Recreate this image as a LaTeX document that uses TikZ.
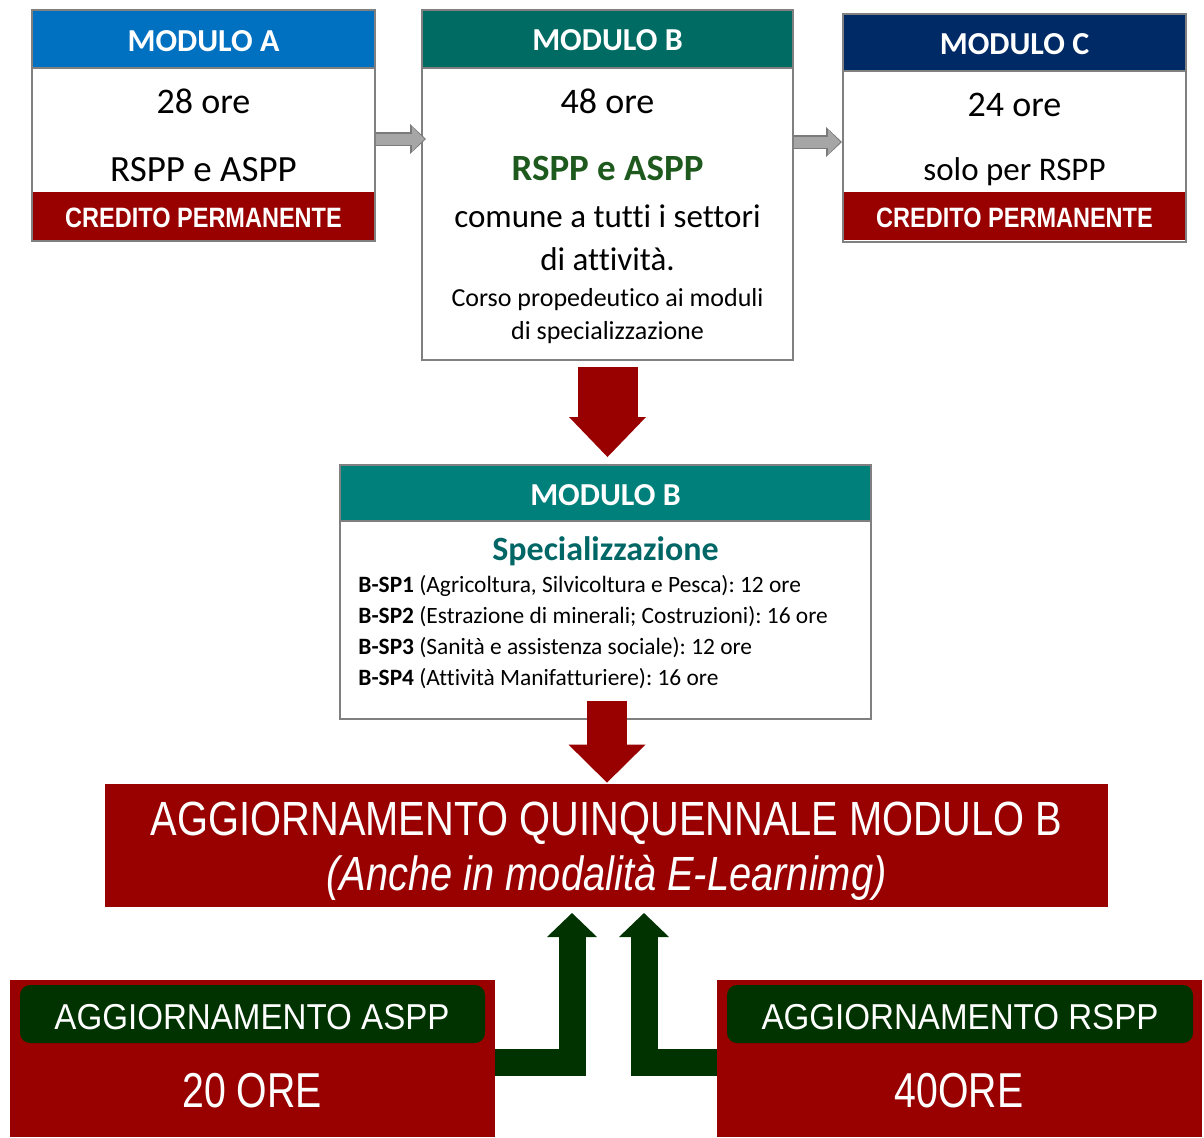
\documentclass[tikz,border=0pt]{standalone}
\usepackage{fontspec}
\setmainfont{Carlito}[Ligatures=NoCommon]
\newfontfamily\bignarrow[FakeStretch=0.83]{Liberation Sans}
\newfontfamily\midnarrow[FakeStretch=0.92]{Liberation Sans}
\newfontfamily\orenarrow[FakeStretch=0.80]{Liberation Sans}
\newfontfamily\creditfont[FakeStretch=0.84]{Liberation Sans}
\usetikzlibrary{fit,calc,arrows.meta}
\definecolor{blueA}{HTML}{0070C0}
\definecolor{tealB}{HTML}{006B63}
\definecolor{navyC}{HTML}{002A66}
\definecolor{tealS}{HTML}{00807A}
\definecolor{darkred}{HTML}{990000}
\definecolor{dgreen}{HTML}{003300}
\definecolor{txtgreen}{HTML}{1E5A1E}
\definecolor{txtteal}{HTML}{006666}
\definecolor{arrowgray}{HTML}{A6A6A6}
\definecolor{arrowedge}{HTML}{7A7A7A}
\definecolor{bordergray}{HTML}{808080}
\frenchspacing
\begin{document}
\begin{tikzpicture}[x=0.5pt,y=-0.5pt,
 frame/.style={draw=bordergray,line width=1pt,fill=white,inner sep=0pt},
 headbar/.style={draw=bordergray,line width=1pt,fill=#1,inner sep=0pt},
 redbar/.style={fill=darkred,draw=none,inner sep=0pt},
 greenbar/.style={fill=dgreen,draw=none,rounded corners=5pt,inner sep=0pt},
 lbl/.style={inner sep=0pt,anchor=base},
 hdrtxt/.style={lbl,text=white,font=\fontsize{16}{19}\selectfont\bfseries},
 oretxt/.style={lbl,font=\fontsize{18}{22}\selectfont},
 roletxt/.style={lbl,font=\fontsize{18.5}{22}\selectfont},
 credtxt/.style={lbl,text=white,font=\creditfont\bfseries\fontsize{14}{17}\selectfont},
 sptxt/.style={inner sep=0pt,anchor=base west,font=\fontsize{11.7}{14}\selectfont},
 redarrow/.style={draw=darkred,line cap=butt},
 greenarrow/.style={draw=dgreen,line width=13.5pt,line join=miter,line cap=butt,-{Triangle[length=12pt 0 0,width=25pt 0 0,line width=0pt]}},
 grayedge/.style={draw=arrowedge,line width=7pt,line cap=butt,-{Triangle[length=8pt 0 0,width=15pt 0 0,line width=0pt]}},
 grayarrow/.style={draw=arrowgray,line width=5.5pt,line cap=butt,shorten >=0.8pt,-{Triangle[length=6.2pt 0 0,width=12.5pt 0 0,line width=0pt]}},
]
\useasboundingbox (0,0) rectangle (1204,1137);

% ---------- Modulo A ----------
\node[frame,fit={(32,10)(375,241)}] (A) {};
\node[headbar=blueA,fit={(32,10)(375,68)}] (Ahead) {};
\node[redbar,fit={(33,192)(374,240)}] (Aband) {};
\node[hdrtxt] (Ah) at (203.5,51) {MODULO A};
\node[oretxt] (Aore) at (203.5,113) {28 ore};
\node[roletxt] (Arole) at (203.5,181) {RSPP e ASPP};
\node[credtxt] (Acred) at (203.5,227) {CREDITO PERMANENTE};

% ---------- Modulo B ----------
\node[frame,fit={(422,10)(793,360)}] (B) {};
\node[headbar=tealB,fit={(422,10)(793,68)}] (Bhead) {};
\node[hdrtxt] (Bh) at (607.5,50) {MODULO B};
\node[oretxt] (Bore) at (607.5,113) {48 ore};
\node[lbl,text=txtgreen,font=\fontsize{18.5}{22}\selectfont\bfseries] (Brole) at (607.5,180) {RSPP e ASPP};
\node[lbl,font=\fontsize{16.5}{20}\selectfont] (Bl1) at (607.5,227) {comune a tutti i settori};
\node[lbl,font=\fontsize{16.5}{20}\selectfont] (Bl2) at (607.5,270) {di attività.};
\node[lbl,font=\fontsize{13}{16}\selectfont] (Bl3) at (607.5,306) {Corso propedeutico ai moduli};
\node[lbl,font=\fontsize{13}{16}\selectfont] (Bl4) at (607.5,339) {di specializzazione};

% ---------- Modulo C ----------
\node[frame,fit={(843,14)(1186,242)}] (C) {};
\node[headbar=navyC,fit={(843,14)(1186,71)}] (Chead) {};
\node[redbar,fit={(844,192)(1185,240)}] (Cband) {};
\node[hdrtxt] (Ch) at (1014.5,54) {MODULO C};
\node[oretxt] (Core) at (1014.5,116) {24 ore};
\node[lbl,font=\fontsize{16.5}{20}\selectfont] (Crole) at (1014.5,180) {solo per RSPP};
\node[credtxt] (Ccred) at (1014.5,227) {CREDITO PERMANENTE};

% ---------- Modulo B specializzazione ----------
\node[frame,fit={(340,465)(871,719)}] (S) {};
\node[headbar=tealS,fit={(340,465)(871,521)}] (Shead) {};
\node[hdrtxt] (Sh) at (605.5,505) {MODULO B};
\node[lbl,text=txtteal,font=\fontsize{17}{20}\selectfont\bfseries] (Stitle) at (605.5,560) {Specializzazione};
\node[sptxt] (Sp1) at (358,592) {\textbf{B-SP1} (Agricoltura, Silvicoltura e Pesca): 12 ore};
\node[sptxt] (Sp2) at (358,623) {\textbf{B-SP2} (Estrazione di minerali; Costruzioni): 16 ore};
\node[sptxt] (Sp3) at (358,654) {\textbf{B-SP3} (Sanità e assistenza sociale): 12 ore};
\node[sptxt] (Sp4) at (358,685) {\textbf{B-SP4} (Attività Manifatturiere): 16 ore};

% ---------- Aggiornamento quinquennale ----------
\node[redbar,fit={(105,784)(1108,907)}] (Agg) {};
\node[lbl,text=white,font=\bignarrow\fontsize{24}{28}\selectfont] (Agg1) at (606.5,835) {AGGIORNAMENTO QUINQUENNALE MODULO B};
\node[lbl,text=white,font=\bignarrow\itshape\fontsize{24}{28}\selectfont] (Agg2) at (606.5,890) {(Anche in modalità E-Learnimg)};

% ---------- Aggiornamento ASPP / RSPP ----------
\node[redbar,fit={(10,980)(495,1137)}] (Asp) {};
\node[greenbar,fit={(20,985)(485,1043)}] (AspH) {};
\node[lbl,text=white,font=\midnarrow\fontsize{18}{22}\selectfont] (AspT) at (252,1029) {AGGIORNAMENTO ASPP};
\node[lbl,text=white,font=\orenarrow\fontsize{24.5}{28}\selectfont] (AspO) at (252,1107) {20 ORE};

\node[redbar,fit={(717,980)(1202,1137)}] (Rsp) {};
\node[greenbar,fit={(727,985)(1193,1043)}] (RspH) {};
\node[lbl,text=white,font=\midnarrow\fontsize{18}{22}\selectfont] (RspT) at (960,1029) {AGGIORNAMENTO RSPP};
\node[lbl,text=white,font=\orenarrow\fontsize{24.5}{28}\selectfont] (RspO) at (959,1107) {40ORE};

% ---------- connectors ----------
\coordinate (ga) at (0,139);
\coordinate (gb) at (0,142);
\draw[grayedge] (A.east |- ga) -- ($(B.west |- ga)+(5,0)$);
\draw[grayarrow] (A.east |- ga) -- ($(B.west |- ga)+(5,0)$);
\draw[grayedge] (B.east |- gb) -- (C.west |- gb);
\draw[grayarrow] (B.east |- gb) -- (C.west |- gb);

\coordinate (r1s) at ($(B.south)+(0,6)$);
\draw[redarrow,line width=30pt,-{Triangle[length=20pt 0 0,width=38.5pt 0 0,line width=0pt]}]
  (r1s) -- ($(r1s |- S.north)+(0,-7)$);
\coordinate (r2s) at ($(S.south)+(1.5,-19)$);
\draw[redarrow,line width=20pt,-{Triangle[length=19pt 0 0,width=38.5pt 0 0,line width=0pt]}]
  (r2s) -- ($(r2s |- Agg.north)+(0,-1)$);

\coordinate (gyl) at (0,1062.5);
\coordinate (gl) at (572,913);
\coordinate (gr) at (644,913);
\draw[greenarrow] (Asp.east |- gyl) -| (gl);
\draw[greenarrow] (Rsp.west |- gyl) -| (gr);
\end{tikzpicture}
\end{document}
